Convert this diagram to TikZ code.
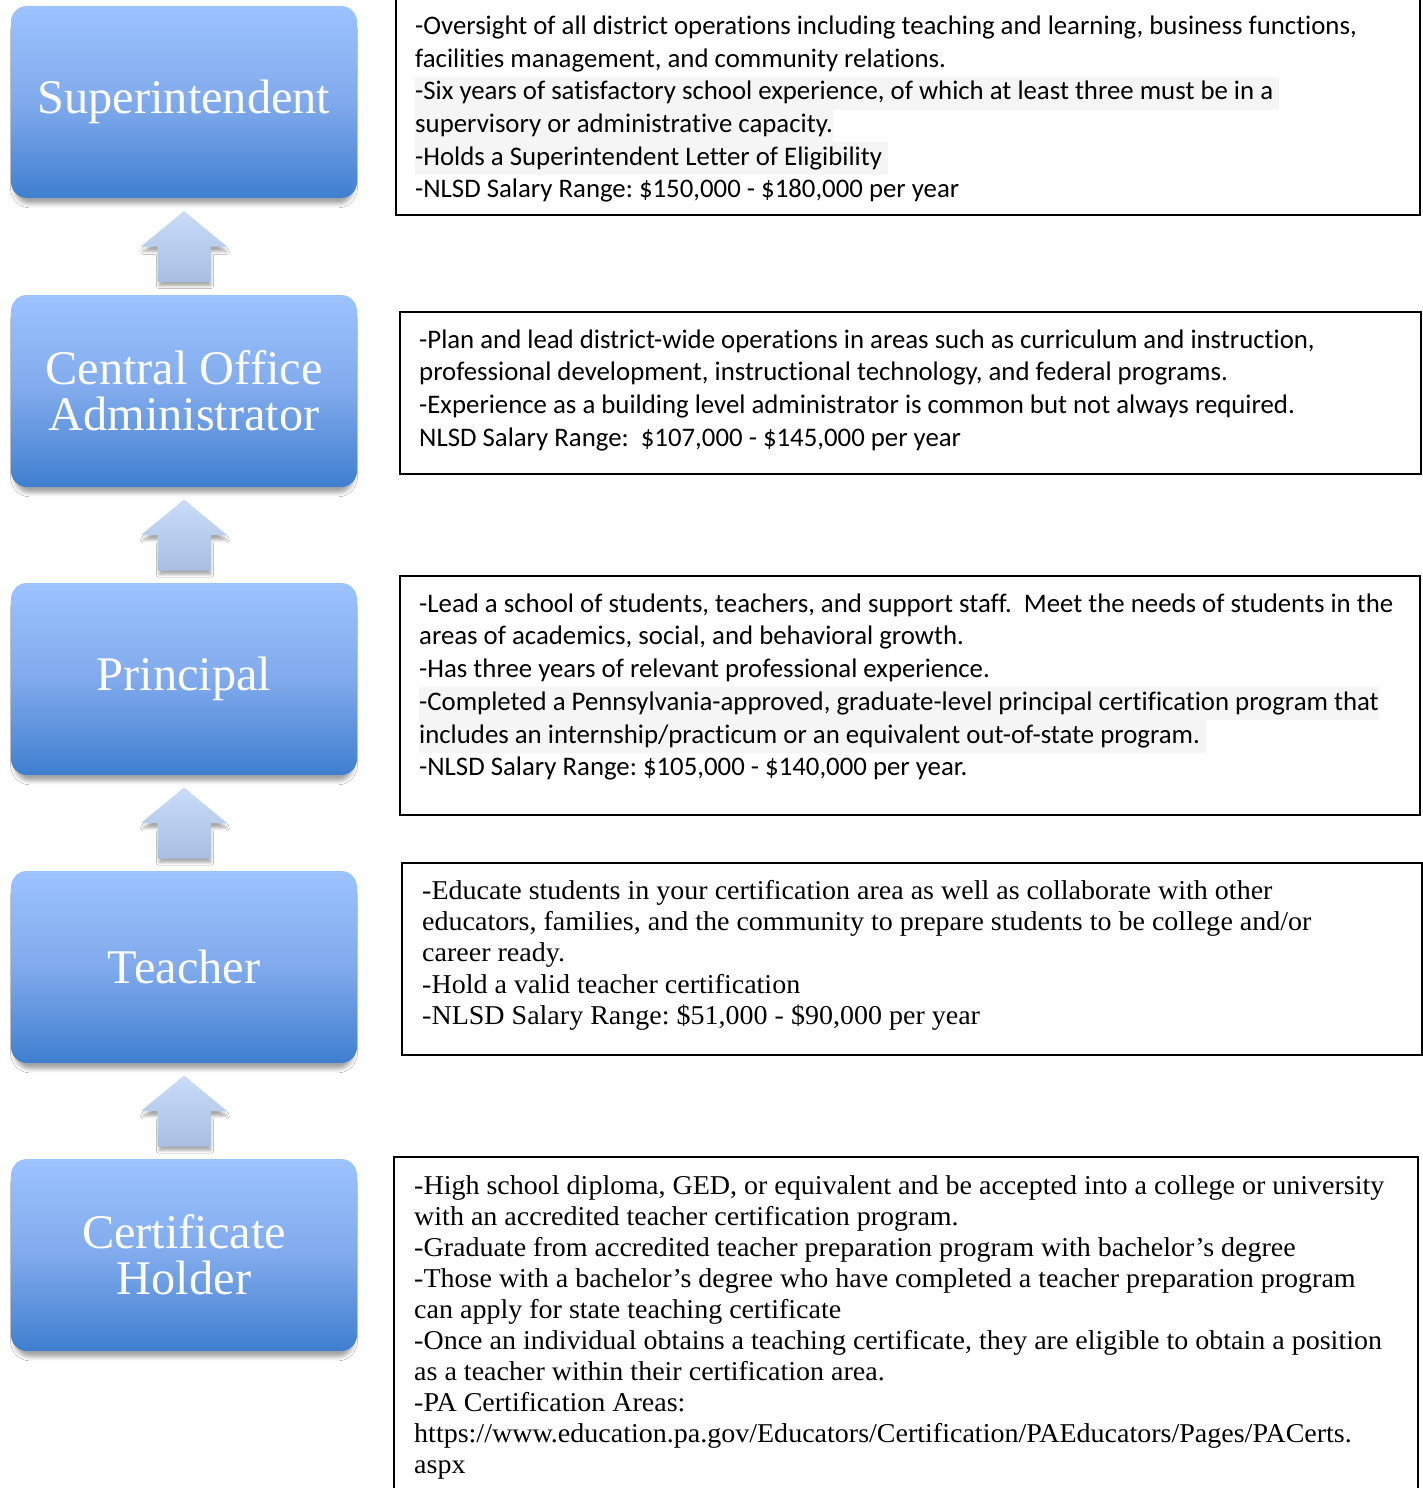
\documentclass[tikz,border=0pt]{standalone}
\usepackage{fontspec}
\newfontfamily\calib[Ligatures={NoCommon}]{Carlito}
\newfontfamily\camb{Liberation Serif}
\newfontfamily\cambw[FakeStretch=1.03]{Liberation Serif}
\usetikzlibrary{shadows.blur,calc}
\definecolor{boxtop}{HTML}{9DC3FF}
\definecolor{boxmid}{HTML}{80AAEC}
\definecolor{boxbot}{HTML}{3F7FCF}
\definecolor{arrtop}{HTML}{C9DBF8}
\definecolor{arrbot}{HTML}{A8BFE3}
\definecolor{hl}{HTML}{F5F5F5}
\newcommand\hlx[1]{{\setlength{\fboxsep}{0pt}\colorbox{hl}{\strut #1}}}
\begin{document}
\frenchspacing
\begin{tikzpicture}[x=1bp,y=-1bp,
  role/.style={rounded corners=16bp, minimum width=346bp, minimum height=192bp,
    top color=boxtop, bottom color=boxbot, middle color=boxmid, text=white,
    align=center, inner sep=0pt, font=\camb\fontsize{48.5}{46}\selectfont,
    blur shadow={shadow scale=0.98, shadow xshift=0bp, shadow yshift=-8bp, shadow blur radius=4bp, shadow opacity=35}},
  info/.style={draw=black, line width=2bp},
  cal/.style={anchor=base west, text width=1100bp, align=flush left, inner sep=0pt,
    font=\calib\fontsize{26.9}{32.8}\selectfont},
  cam/.style={anchor=base west, text width=1100bp, align=flush left, inner sep=0pt,
    font=\cambw\fontsize{27.3}{31.5}\selectfont},
  upar/.pic={\path[top color=arrtop, bottom color=arrbot,
      blur shadow={shadow scale=0.97, shadow xshift=1bp, shadow yshift=-5bp, shadow blur radius=3bp, shadow opacity=35}]
      (0,-35.5) -- (43,0) -- (26.5,0) -- (26.5,35.5) -- (-26.5,35.5) -- (-26.5,0) -- (-43,0) -- cycle;}
]
\path[use as bounding box, fill=white] (0,0) rectangle (1423,1488);

% role boxes
\node[role] (r1) at (184,102) {Superintendent};
\node[role] (r2) at (184,391) {Central Office\\Administrator};
\node[role] (r3) at (184,679) {Principal};
\node[role] (r4) at (184,967) {Teacher};
\node[role] (r5) at (184,1255) {Certificate\\Holder};

% up arrows
\pic at ($(r2.north)!0.5!(r1.south)$) {upar};
\pic at ($(r3.north)!0.5!(r2.south)$) {upar};
\pic at ($(r4.north)!0.5!(r3.south)$) {upar};
\pic at ($(r5.north)!0.5!(r4.south)$) {upar};

% info boxes
\draw[info] (396,-5) rectangle (1420,215);
\draw[info] (400,312) rectangle (1421,474);
\draw[info] (400,576) rectangle (1420,815);
\draw[info] (402,863) rectangle (1422,1055);
\draw[info] (394,1157) rectangle (1418,1500);

\node[cal] (t1) at (415,34.5) {-Oversight of all district operations including teaching and learning, business functions,\\
facilities management, and community relations.\\
\hlx{-Six years of satisfactory school experience, of which at least three must be in a }\\
\hlx{supervisory or administrative capacity.}\\
\hlx{-Holds a Superintendent Letter of Eligibility }\\
-NLSD Salary Range: \$150,000 - \$180,000 per year};

\node[cal] (t2) at (419,348.3) {-Plan and lead district-wide operations in areas such as curriculum and instruction,\\
professional development, instructional technology, and federal programs.\\
-Experience as a building level administrator is common but not always required.\\
NLSD Salary Range:\ \ \$107,000 - \$145,000 per year};

\node[cal] (t3) at (419,612.3) {-Lead a school of students, teachers, and support staff.\ \ Meet the needs of students in the\\
areas of academics, social, and behavioral growth.\\
-Has three years of relevant professional experience.\\
\hlx{-Completed a Pennsylvania-approved, graduate-level principal certification program that}\\
\hlx{includes an internship/practicum or an equivalent out-of-state program. }\\
-NLSD Salary Range: \$105,000 - \$140,000 per year.};

\node[cam] (t4) at (422,899) {-Educate students in your certification area as well as collaborate with other\\
educators, families, and the community to prepare students to be college and/or\\
career ready.\\
-Hold a valid teacher certification\\
-NLSD Salary Range: \$51,000 - \$90,000 per year};

\node[cam, font=\cambw\fontsize{27.3}{31.1}\selectfont] (t5) at (414,1194.7) {-High school diploma, GED, or equivalent and be accepted into a college or university\\
with an accredited teacher certification program.\\
-Graduate from accredited teacher preparation program with bachelor’s degree\\
-Those with a bachelor’s degree who have completed a teacher preparation program\\
can apply for state teaching certificate\\
-Once an individual obtains a teaching certificate, they are eligible to obtain a position\\
as a teacher within their certification area.\\
-PA Certification Areas:\\
https://www.education.pa.gov/Educators/Certification/PAEducators/Pages/PACerts.\\
aspx};
\end{tikzpicture}
\end{document}
